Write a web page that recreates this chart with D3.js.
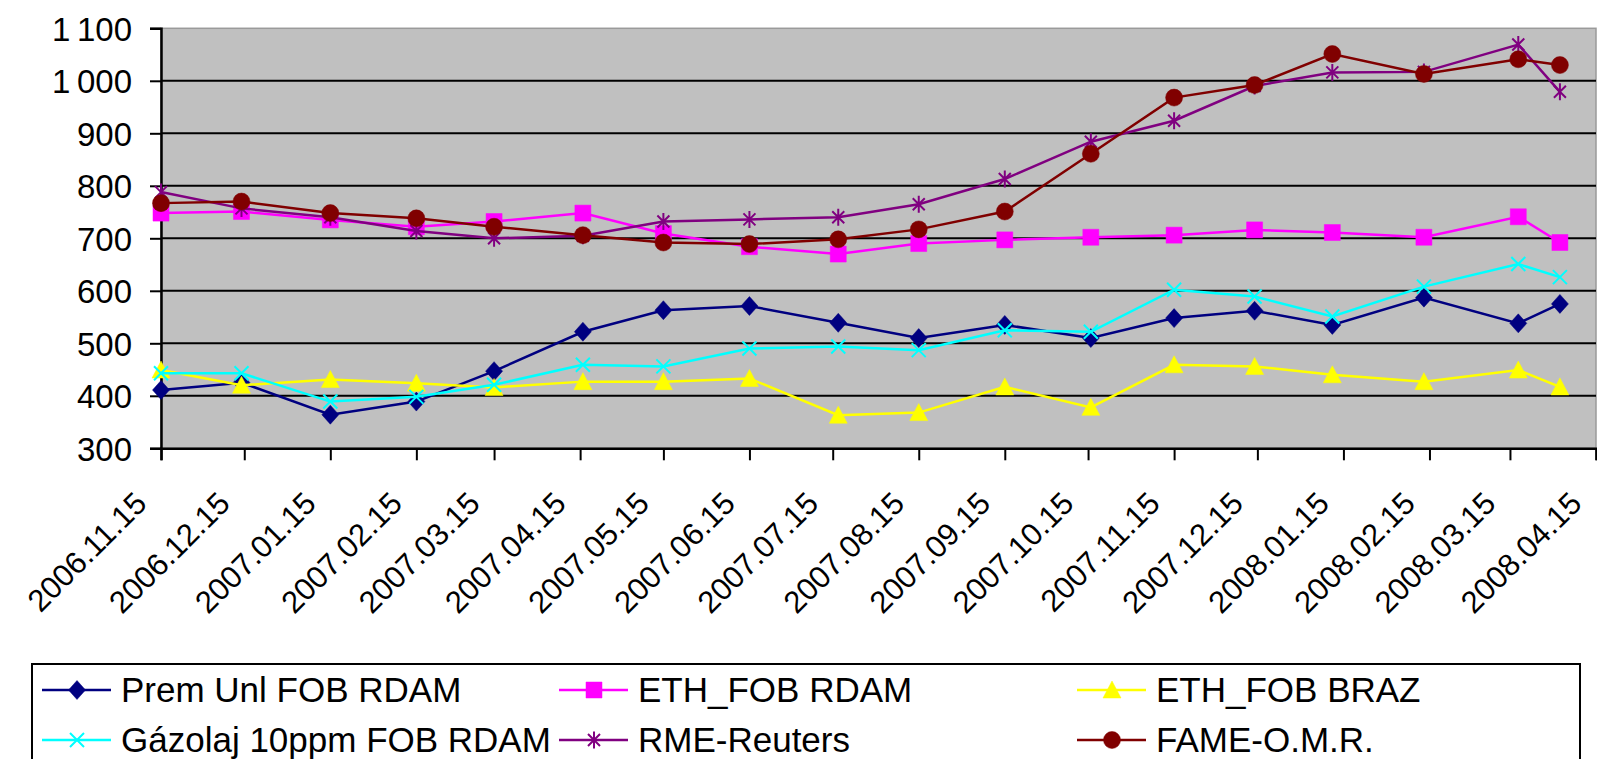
<!DOCTYPE html>
<html>
<head>
<meta charset="utf-8">
<script src="https://cdn.jsdelivr.net/npm/d3@7"></script>
<style>
  html, body { margin: 0; padding: 0; background: #ffffff; }
  svg { display: block; }
  text { font-family: "Liberation Sans", Arial, sans-serif; fill: #000; }
</style>
</head>
<body>
<svg id="chart" width="1597" height="759"></svg>
<script>
// ---------- data ----------
const dates = ["2006-11-15","2006-12-14","2007-01-15","2007-02-15","2007-03-15","2007-04-16",
               "2007-05-15","2007-06-15","2007-07-17","2007-08-15","2007-09-15","2007-10-16",
               "2007-11-15","2007-12-14","2008-01-11","2008-02-13","2008-03-18","2008-04-02"];

const premUnl = [411, 425, 364, 389, 447, 522, 563, 571, 539, 510, 535, 510, 548, 562, 535, 587, 538, 575];
const ethRdam = [748, 751, 735, 722, 732, 748, 709, 684, 670, 690, 697, 702, 706, 716, 711, 702, 741, 692];
const ethBraz = [449, 420, 431, 424, 416, 427, 427, 433, 363, 368, 417, 378, 459, 456, 440, 427, 449, 417];
const gazolaj = [443, 443, 389, 398, 421, 459, 456, 490, 494, 487, 525, 522, 602, 589, 551, 608, 651, 626];
const rme     = [788, 757, 740, 714, 700, 705, 732, 736, 740, 765, 813, 884, 924, 990, 1016, 1017, 1069, 979];
const fame    = [767, 770, 748, 738, 722, 706, 692, 689, 698, 717, 751, 861, 968, 992, 1051, 1013, 1041, 1030];

const seriesNames  = ["Prem Unl FOB RDAM", "ETH_FOB RDAM", "ETH_FOB BRAZ",
                      "Gázolaj 10ppm FOB RDAM", "RME-Reuters", "FAME-O.M.R."];
const seriesValues = [premUnl, ethRdam, ethBraz, gazolaj, rme, fame];
const seriesColors = ["#000080", "#FF00FF", "#FFFF00", "#00FFFF", "#800080", "#800000"];
const seriesMarkers = ["diamond", "square", "triangle", "x", "star", "circle"];

const xTickLabels = ["2006.11.15","2006.12.15","2007.01.15","2007.02.15","2007.03.15","2007.04.15",
                     "2007.05.15","2007.06.15","2007.07.15","2007.08.15","2007.09.15","2007.10.15",
                     "2007.11.15","2007.12.15","2008.01.15","2008.02.15","2008.03.15","2008.04.15"];
const yTicks = [300, 400, 500, 600, 700, 800, 900, 1000, 1100];
const yTickLabels = ["300", "400", "500", "600", "700", "800", "900", "1\u2009000", "1\u2009100"];

// ---------- setup ----------
const svg = d3.select("#chart");
const plot = { left: 161, right: 1596, top: 28.3, bottom: 448.3 };

const parseISO = d3.timeParse("%Y-%m-%d");
const parseTick = d3.timeParse("%Y.%m.%d");
const tickDates = xTickLabels.map(parseTick);

const x = d3.scaleTime()
  .domain([tickDates[0], tickDates[tickDates.length - 1]])
  .range([plot.left, plot.right]);
const y = d3.scaleLinear().domain([300, 1100]).range([plot.bottom, plot.top]);

// plot area
svg.append("rect")
  .attr("x", plot.left).attr("y", plot.top)
  .attr("width", plot.right - plot.left).attr("height", plot.bottom - plot.top)
  .attr("fill", "#C0C0C0").attr("stroke", "#9a9a9a").attr("stroke-width", 1.5);

// gridlines
svg.append("g").selectAll("line")
  .data(yTicks.filter(v => v > 300 && v < 1100))
  .join("line")
  .attr("x1", plot.left).attr("x2", plot.right)
  .attr("y1", d => y(d)).attr("y2", d => y(d))
  .attr("stroke", "#000").attr("stroke-width", 2);

// y axis
const yAxis = svg.append("g")
  .attr("transform", `translate(${plot.left},0)`)
  .call(d3.axisLeft(y).tickValues(yTicks).tickFormat((d, i) => yTickLabels[i]).tickSize(11).tickPadding(18));
yAxis.select(".domain").attr("stroke", "#000").attr("stroke-width", 2.5);
yAxis.selectAll(".tick line").attr("stroke", "#000").attr("stroke-width", 2);
yAxis.selectAll(".tick text")
  .style("font-size", "33px").attr("dy", "0.36em");

// x axis
const xAxis = svg.append("g")
  .attr("transform", `translate(0,${plot.bottom})`)
  .call(d3.axisBottom(x).tickValues(tickDates).tickFormat((d, i) => xTickLabels[i]).tickSize(12));
xAxis.select(".domain").attr("stroke", "#000").attr("stroke-width", 2.5);
xAxis.selectAll(".tick line").attr("stroke", "#000").attr("stroke-width", 2);
xAxis.selectAll(".tick text")
  .style("font-size", "31px")
  .attr("text-anchor", "end")
  .attr("x", 0).attr("y", 0).attr("dy", 0)
  .attr("transform", "translate(-13,57) rotate(-45)");

// ---------- markers ----------
function markerPath(type) {
  switch (type) {
    case "diamond": return "M0,-9.5L8.5,0L0,9.5L-8.5,0Z";
    case "square": return "M-8,-8H8V8H-8Z";
    case "triangle": return "M0,-9L9,8H-9Z";
    case "circle": return d3.symbol(d3.symbolCircle, Math.PI * 8.5 * 8.5)();
    case "x": return "M-7,-7L7,7M-7,7L7,-7";
    case "star": return "M-6,-6L6,6M-6,6L6,-6M0,-8.5V8.5";
  }
}
function drawMarker(g, type, color) {
  const stroked = (type === "x" || type === "star");
  g.append("path")
    .attr("d", markerPath(type))
    .attr("fill", stroked ? "none" : color)
    .attr("stroke", color)
    .attr("stroke-width", stroked ? 2 : 0.5);
}

// ---------- series ----------
const line = d3.line().x(d => x(d.date)).y(d => y(d.value));
const seriesG = svg.append("g");
seriesValues.forEach((vals, si) => {
  const pts = vals.map((v, i) => ({ date: parseISO(dates[i]), value: v }));
  const g = seriesG.append("g");
  g.append("path").datum(pts)
    .attr("d", line)
    .attr("fill", "none")
    .attr("stroke", seriesColors[si])
    .attr("stroke-width", 2.5);
  g.selectAll("g.m").data(pts).join("g")
    .attr("class", "m")
    .attr("transform", d => `translate(${x(d.date)},${y(d.value)})`)
    .each(function () { drawMarker(d3.select(this), seriesMarkers[si], seriesColors[si]); });
});

// ---------- legend ----------
const legend = svg.append("g");
legend.append("rect")
  .attr("x", 32).attr("y", 664).attr("width", 1548).attr("height", 120)
  .attr("fill", "#fff").attr("stroke", "#000").attr("stroke-width", 2);
const legCols = [42, 559, 1077];
const legRows = [690, 740];
seriesNames.forEach((name, i) => {
  const cx = legCols[i % 3], cy = legRows[Math.floor(i / 3)];
  const g = legend.append("g").attr("transform", `translate(${cx},${cy})`);
  g.append("line").attr("x1", 0).attr("x2", 69).attr("y1", 0).attr("y2", 0)
    .attr("stroke", seriesColors[i]).attr("stroke-width", 2.5);
  const mg = g.append("g").attr("transform", "translate(35,0)");
  drawMarker(mg, seriesMarkers[i], seriesColors[i]);
  g.append("text").attr("x", 79).attr("y", 0).attr("dy", "0.34em")
    .style("font-size", "35px").text(name);
});
</script>
</body>
</html>
